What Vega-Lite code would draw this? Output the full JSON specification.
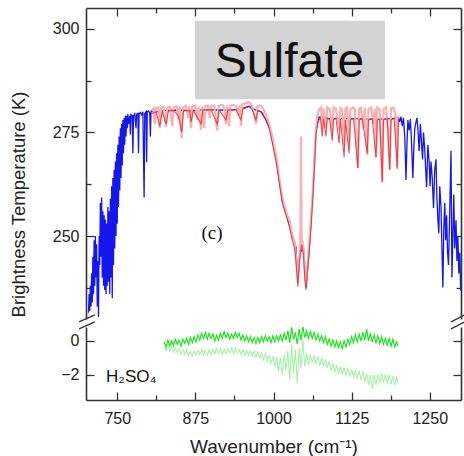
{
"$schema":"https://vega.github.io/schema/vega-lite/v6.json",
"padding":{"left":9,"top":7,"right":0,"bottom":0},
"background":"white",
"config":{"view":{"stroke":null},"axis":{"labelFont":"Liberation Sans","titleFont":"Liberation Sans","labelFontSize":16,"titleFontSize":18.5,"titleFontWeight":"normal","labelColor":"#222","titleColor":"#222","domainColor":"#333","tickColor":"#333","domainWidth":1.6,"tickWidth":1.3,"grid":false}},
"datasets":{
"blue":[{"w":704,"t":231.5},{"w":705,"t":236},{"w":706,"t":232},{"w":707,"t":238},{"w":708,"t":233},{"w":709,"t":241},{"w":710,"t":234},{"w":711,"t":245},{"w":712,"t":236},{"w":713,"t":249},{"w":714,"t":238},{"w":715,"t":250},{"w":716,"t":240},{"w":717,"t":248},{"w":718,"t":233},{"w":719,"t":244},{"w":720,"t":230.5},{"w":721,"t":250},{"w":722,"t":243},{"w":723,"t":258},{"w":724,"t":245},{"w":725,"t":259.3},{"w":726,"t":240},{"w":727,"t":256},{"w":728,"t":238},{"w":729,"t":255},{"w":730,"t":237},{"w":731,"t":254},{"w":732,"t":236},{"w":733,"t":253},{"w":734,"t":238},{"w":735,"t":257},{"w":736,"t":239},{"w":737,"t":256},{"w":738,"t":236},{"w":739,"t":259},{"w":740,"t":240},{"w":741,"t":262},{"w":742,"t":235},{"w":743,"t":264},{"w":744,"t":243},{"w":745,"t":266},{"w":746,"t":247},{"w":747,"t":268},{"w":748,"t":250},{"w":749,"t":270},{"w":750,"t":253},{"w":751,"t":272},{"w":752,"t":257},{"w":753,"t":274},{"w":754,"t":261},{"w":755,"t":276},{"w":756,"t":264},{"w":757,"t":277},{"w":758,"t":267},{"w":759,"t":278},{"w":760,"t":270},{"w":761,"t":278.5},{"w":762,"t":272},{"w":763,"t":279},{"w":764,"t":274},{"w":765,"t":279},{"w":766,"t":276},{"w":767,"t":279.5},{"w":768,"t":277},{"w":770,"t":279},{"w":771,"t":274.5},{"w":772,"t":279.3},{"w":774,"t":279},{"w":775,"t":270},{"w":776,"t":279},{"w":778,"t":279.5},{"w":780,"t":276},{"w":781,"t":279.4},{"w":783,"t":279.6},{"w":784,"t":270},{"w":785,"t":279.5},{"w":787,"t":279.8},{"w":789,"t":279.2},{"w":791,"t":280},{"w":793,"t":259.3},{"w":794,"t":279.5},{"w":796,"t":280},{"w":797,"t":267.8},{"w":798,"t":280},{"w":800,"t":280.2},{"w":802,"t":279.7},{"w":803,"t":274},{"w":804,"t":280},{"w":806,"t":280.3},{"w":808,"t":279.8},{"w":815,"t":280},{"w":830,"t":280.3},{"w":850,"t":280.4},{"w":870,"t":280.2},{"w":890,"t":280.5},{"w":910,"t":280.4},{"w":930,"t":280.3},{"w":950,"t":280.8},{"w":961,"t":281.3},{"w":970,"t":280.5},{"w":980,"t":280},{"w":988,"t":278},{"w":995,"t":275.5},{"w":1004,"t":269},{"w":1014,"t":258.6},{"w":1025,"t":253},{"w":1036,"t":247.3},{"w":1039,"t":238.8},{"w":1042,"t":246},{"w":1048,"t":247},{"w":1052,"t":237.6},{"w":1057,"t":246.5},{"w":1063,"t":260.5},{"w":1068,"t":275.5},{"w":1073,"t":278.7},{"w":1090,"t":278.3},{"w":1110,"t":278.4},{"w":1130,"t":278.3},{"w":1150,"t":278.2},{"w":1170,"t":278.2},{"w":1190,"t":278.3},{"w":1197,"t":278.5},{"w":1200,"t":278.6},{"w":1202,"t":277.5},{"w":1204,"t":278.8},{"w":1206,"t":276.5},{"w":1208,"t":278.5},{"w":1210,"t":274},{"w":1212,"t":263.5},{"w":1213.5,"t":272},{"w":1215,"t":278},{"w":1217,"t":275.5},{"w":1219,"t":278.2},{"w":1221,"t":272},{"w":1223,"t":264},{"w":1224.5,"t":271},{"w":1226,"t":276},{"w":1228,"t":277.5},{"w":1229.5,"t":278.5},{"w":1231,"t":276},{"w":1233,"t":270.5},{"w":1235,"t":277},{"w":1237,"t":272},{"w":1238.5,"t":268.5},{"w":1240,"t":275},{"w":1242,"t":271},{"w":1243.5,"t":266},{"w":1245,"t":261.8},{"w":1247,"t":272},{"w":1249,"t":268},{"w":1250.5,"t":262},{"w":1252,"t":268},{"w":1254,"t":264},{"w":1256,"t":256.8},{"w":1258,"t":266},{"w":1260,"t":268.5},{"w":1261.5,"t":259},{"w":1263,"t":254},{"w":1264.5,"t":250.7},{"w":1266,"t":262},{"w":1268,"t":257},{"w":1269.5,"t":247},{"w":1271,"t":237.6},{"w":1272.5,"t":252},{"w":1274,"t":258},{"w":1275.5,"t":249},{"w":1277,"t":255},{"w":1278.5,"t":246},{"w":1280,"t":243},{"w":1282,"t":256},{"w":1284,"t":270.6},{"w":1285.5,"t":240},{"w":1287,"t":250},{"w":1288.5,"t":260},{"w":1290,"t":247},{"w":1292,"t":253.8},{"w":1293.5,"t":244},{"w":1295,"t":250},{"w":1296.5,"t":241},{"w":1298,"t":246},{"w":1299.5,"t":236.8}],
"pink":[{"w":805,"t":280.3},{"w":808,"t":280.8},{"w":810,"t":277},{"w":812,"t":281},{"w":816,"t":281},{"w":818,"t":276},{"w":820,"t":281},{"w":824,"t":281.2},{"w":828,"t":276.3},{"w":830,"t":281},{"w":834,"t":281.2},{"w":838,"t":276.5},{"w":840,"t":281},{"w":845,"t":281.3},{"w":848,"t":278},{"w":850,"t":281.2},{"w":853,"t":273.6},{"w":855,"t":281},{"w":860,"t":281.4},{"w":863,"t":278.5},{"w":865,"t":281.3},{"w":868,"t":276},{"w":870,"t":281.2},{"w":875,"t":281.5},{"w":878,"t":278},{"w":880,"t":281.3},{"w":884,"t":275.6},{"w":886,"t":281.3},{"w":889,"t":276},{"w":891,"t":281.4},{"w":895,"t":281.5},{"w":898,"t":278.5},{"w":900,"t":281.4},{"w":905,"t":281.5},{"w":910,"t":275.5},{"w":912,"t":281.4},{"w":916,"t":281.6},{"w":920,"t":281.5},{"w":924,"t":277},{"w":926,"t":281.5},{"w":929,"t":276.5},{"w":931,"t":281.5},{"w":936,"t":281.6},{"w":940,"t":281.4},{"w":944,"t":279},{"w":946,"t":281.6},{"w":948,"t":276.5},{"w":950,"t":281.8},{"w":955,"t":282},{"w":961,"t":282.3},{"w":965,"t":281.6},{"w":968,"t":280},{"w":972,"t":277},{"w":974,"t":281.3},{"w":978,"t":281.5},{"w":982,"t":281},{"w":986,"t":280},{"w":990,"t":278.5},{"w":994,"t":276.5},{"w":998,"t":274},{"w":1002,"t":271},{"w":1006,"t":268},{"w":1010,"t":263},{"w":1014,"t":259.5},{"w":1018,"t":257},{"w":1022,"t":255},{"w":1026,"t":253.5},{"w":1030,"t":250},{"w":1034,"t":248.5},{"w":1037,"t":243},{"w":1039,"t":239},{"w":1041,"t":244},{"w":1043,"t":249},{"w":1044,"t":274},{"w":1045,"t":250},{"w":1048,"t":247},{"w":1050,"t":241},{"w":1052,"t":238},{"w":1054,"t":242},{"w":1057,"t":248},{"w":1060,"t":254},{"w":1063,"t":261},{"w":1066,"t":270},{"w":1068,"t":276},{"w":1070,"t":279},{"w":1073,"t":280.5},{"w":1076,"t":281},{"w":1078,"t":276},{"w":1080,"t":280.8},{"w":1084,"t":276},{"w":1086,"t":281},{"w":1090,"t":280.6},{"w":1094,"t":275},{"w":1096,"t":281},{"w":1100,"t":280.7},{"w":1105,"t":275.5},{"w":1107,"t":280.9},{"w":1110,"t":280.5},{"w":1113,"t":272},{"w":1115,"t":280.8},{"w":1118,"t":281},{"w":1121,"t":272},{"w":1123,"t":280.5},{"w":1127,"t":281},{"w":1130,"t":280.6},{"w":1135,"t":266.4},{"w":1137,"t":280.8},{"w":1140,"t":281},{"w":1144,"t":276},{"w":1146,"t":281},{"w":1150,"t":269.5},{"w":1152,"t":280.6},{"w":1156,"t":281},{"w":1160,"t":277},{"w":1162,"t":280.8},{"w":1164,"t":269},{"w":1166,"t":281},{"w":1170,"t":280.5},{"w":1174,"t":263},{"w":1176,"t":280.6},{"w":1180,"t":281},{"w":1183,"t":276},{"w":1186,"t":266},{"w":1188,"t":280.8},{"w":1192,"t":281},{"w":1195,"t":279.5},{"w":1198,"t":266},{"w":1199,"t":279}],
"red":[{"w":805,"t":279.5},{"w":812,"t":280},{"w":818,"t":276.5},{"w":822,"t":280},{"w":828,"t":277},{"w":832,"t":280.2},{"w":840,"t":280.3},{"w":848,"t":279},{"w":853,"t":275},{"w":856,"t":280.2},{"w":866,"t":280.3},{"w":868,"t":277.5},{"w":872,"t":280.3},{"w":884,"t":277},{"w":887,"t":280.4},{"w":900,"t":280.5},{"w":910,"t":277},{"w":913,"t":280.4},{"w":924,"t":278},{"w":927,"t":280.4},{"w":940,"t":280.5},{"w":948,"t":278},{"w":951,"t":280.6},{"w":961,"t":281.3},{"w":966,"t":280.4},{"w":972,"t":278},{"w":975,"t":280.3},{"w":982,"t":279.8},{"w":988,"t":278},{"w":993,"t":276},{"w":998,"t":272.5},{"w":1004,"t":268},{"w":1009,"t":263},{"w":1014,"t":258},{"w":1019,"t":255.5},{"w":1025,"t":252.5},{"w":1030,"t":249},{"w":1034,"t":247},{"w":1037,"t":242},{"w":1039,"t":237.8},{"w":1041,"t":243},{"w":1045,"t":248},{"w":1048,"t":245.5},{"w":1050,"t":240},{"w":1052,"t":237},{"w":1054,"t":241},{"w":1057,"t":246},{"w":1060,"t":252},{"w":1063,"t":259.5},{"w":1066,"t":268},{"w":1068,"t":274.5},{"w":1071,"t":277.5},{"w":1075,"t":278.5},{"w":1078,"t":274},{"w":1080,"t":278.3},{"w":1084,"t":274},{"w":1086,"t":278.5},{"w":1090,"t":278},{"w":1094,"t":273},{"w":1096,"t":278.2},{"w":1100,"t":278.4},{"w":1105,"t":272.4},{"w":1107,"t":278.2},{"w":1113,"t":269},{"w":1115,"t":278},{"w":1121,"t":270},{"w":1123,"t":278},{"w":1128,"t":278.4},{"w":1135,"t":266.4},{"w":1137,"t":278},{"w":1142,"t":278.3},{"w":1150,"t":270},{"w":1152,"t":278},{"w":1158,"t":278.3},{"w":1164,"t":269},{"w":1166,"t":278},{"w":1170,"t":278.2},{"w":1174,"t":263},{"w":1176,"t":278},{"w":1182,"t":278.3},{"w":1186,"t":266},{"w":1188,"t":278},{"w":1193,"t":278.4},{"w":1198,"t":266.5},{"w":1200,"t":278.5}],
"g1":[{"w":825,"v":-0.05},{"w":828,"v":-0.35},{"w":831,"v":0.05},{"w":834,"v":-0.3},{"w":837,"v":0.0},{"w":840,"v":-0.25},{"w":843,"v":0.1},{"w":846,"v":-0.2},{"w":849,"v":0.05},{"w":852,"v":-0.3},{"w":855,"v":0.1},{"w":858,"v":-0.15},{"w":861,"v":0.15},{"w":864,"v":-0.2},{"w":867,"v":0.2},{"w":870,"v":-0.1},{"w":873,"v":0.25},{"w":876,"v":-0.05},{"w":879,"v":0.35},{"w":882,"v":0.05},{"w":885,"v":0.45},{"w":888,"v":0.15},{"w":891,"v":0.5},{"w":894,"v":0.1},{"w":897,"v":0.45},{"w":900,"v":0.15},{"w":903,"v":0.4},{"w":906,"v":0.0},{"w":909,"v":0.35},{"w":912,"v":0.05},{"w":915,"v":0.45},{"w":918,"v":0.15},{"w":921,"v":0.55},{"w":924,"v":0.2},{"w":927,"v":0.45},{"w":930,"v":0.1},{"w":933,"v":0.4},{"w":936,"v":0.15},{"w":939,"v":0.5},{"w":942,"v":0.2},{"w":945,"v":0.45},{"w":948,"v":0.05},{"w":951,"v":0.35},{"w":954,"v":0.0},{"w":957,"v":0.3},{"w":960,"v":-0.05},{"w":963,"v":0.25},{"w":966,"v":-0.1},{"w":969,"v":0.2},{"w":972,"v":-0.15},{"w":975,"v":0.2},{"w":978,"v":-0.1},{"w":981,"v":0.25},{"w":984,"v":-0.05},{"w":987,"v":0.3},{"w":990,"v":0.0},{"w":993,"v":0.25},{"w":996,"v":-0.1},{"w":999,"v":0.3},{"w":1002,"v":-0.05},{"w":1005,"v":0.3},{"w":1008,"v":0.0},{"w":1011,"v":0.35},{"w":1014,"v":0.0},{"w":1017,"v":0.45},{"w":1020,"v":0.05},{"w":1023,"v":0.6},{"w":1026,"v":-0.1},{"w":1029,"v":0.8},{"w":1032,"v":0.1},{"w":1035,"v":0.5},{"w":1038,"v":-0.2},{"w":1041,"v":0.7},{"w":1044,"v":0.05},{"w":1047,"v":0.85},{"w":1050,"v":0.2},{"w":1053,"v":0.6},{"w":1056,"v":0.15},{"w":1059,"v":0.55},{"w":1062,"v":0.15},{"w":1065,"v":0.5},{"w":1068,"v":0.05},{"w":1071,"v":0.4},{"w":1074,"v":0.0},{"w":1077,"v":0.3},{"w":1080,"v":-0.1},{"w":1083,"v":0.25},{"w":1086,"v":-0.2},{"w":1089,"v":0.1},{"w":1092,"v":-0.3},{"w":1095,"v":0.05},{"w":1098,"v":-0.35},{"w":1101,"v":0.0},{"w":1104,"v":-0.4},{"w":1107,"v":-0.05},{"w":1110,"v":-0.45},{"w":1113,"v":0.0},{"w":1116,"v":-0.35},{"w":1119,"v":0.1},{"w":1122,"v":-0.2},{"w":1125,"v":0.25},{"w":1128,"v":-0.1},{"w":1131,"v":0.35},{"w":1134,"v":-0.05},{"w":1137,"v":0.4},{"w":1140,"v":0.0},{"w":1143,"v":0.5},{"w":1146,"v":0.05},{"w":1149,"v":0.7},{"w":1152,"v":0.0},{"w":1155,"v":0.45},{"w":1158,"v":-0.05},{"w":1161,"v":0.35},{"w":1164,"v":-0.1},{"w":1167,"v":0.3},{"w":1170,"v":-0.15},{"w":1173,"v":0.25},{"w":1176,"v":-0.2},{"w":1179,"v":0.15},{"w":1182,"v":-0.25},{"w":1185,"v":0.15},{"w":1188,"v":-0.3},{"w":1191,"v":0.1},{"w":1194,"v":-0.35},{"w":1197,"v":-0.05},{"w":1199,"v":-0.3}],
"g2":[{"w":825,"v":-0.3},{"w":828,"v":-0.55},{"w":831,"v":-0.25},{"w":834,"v":-0.6},{"w":837,"v":-0.35},{"w":840,"v":-0.65},{"w":843,"v":-0.4},{"w":846,"v":-0.7},{"w":849,"v":-0.45},{"w":852,"v":-0.75},{"w":855,"v":-0.5},{"w":858,"v":-0.8},{"w":861,"v":-0.55},{"w":864,"v":-0.85},{"w":867,"v":-0.6},{"w":870,"v":-0.9},{"w":873,"v":-0.6},{"w":876,"v":-0.85},{"w":879,"v":-0.55},{"w":882,"v":-0.8},{"w":885,"v":-0.5},{"w":888,"v":-0.8},{"w":891,"v":-0.55},{"w":894,"v":-0.85},{"w":897,"v":-0.5},{"w":900,"v":-0.8},{"w":903,"v":-0.5},{"w":906,"v":-0.75},{"w":909,"v":-0.45},{"w":912,"v":-0.75},{"w":915,"v":-0.45},{"w":918,"v":-0.8},{"w":921,"v":-0.5},{"w":924,"v":-0.75},{"w":927,"v":-0.45},{"w":930,"v":-0.7},{"w":933,"v":-0.4},{"w":936,"v":-0.75},{"w":939,"v":-0.45},{"w":942,"v":-0.7},{"w":945,"v":-0.5},{"w":948,"v":-0.8},{"w":951,"v":-0.5},{"w":954,"v":-0.85},{"w":957,"v":-0.55},{"w":960,"v":-0.85},{"w":963,"v":-0.6},{"w":966,"v":-0.9},{"w":969,"v":-0.6},{"w":972,"v":-0.95},{"w":975,"v":-0.65},{"w":978,"v":-1.0},{"w":981,"v":-0.7},{"w":984,"v":-1.1},{"w":987,"v":-0.75},{"w":990,"v":-1.2},{"w":993,"v":-0.85},{"w":996,"v":-1.3},{"w":999,"v":-0.9},{"w":1002,"v":-1.5},{"w":1005,"v":-0.95},{"w":1008,"v":-1.8},{"w":1011,"v":-1.0},{"w":1014,"v":-2.0},{"w":1017,"v":-0.8},{"w":1020,"v":-1.7},{"w":1023,"v":-0.6},{"w":1026,"v":-2.3},{"w":1029,"v":-0.2},{"w":1032,"v":-1.9},{"w":1035,"v":-0.5},{"w":1038,"v":-2.5},{"w":1041,"v":-0.4},{"w":1044,"v":-1.6},{"w":1047,"v":0.1},{"w":1050,"v":-1.5},{"w":1053,"v":-0.7},{"w":1056,"v":-1.4},{"w":1059,"v":-0.8},{"w":1062,"v":-1.3},{"w":1065,"v":-0.85},{"w":1068,"v":-1.35},{"w":1071,"v":-0.9},{"w":1074,"v":-1.45},{"w":1077,"v":-1.0},{"w":1080,"v":-1.5},{"w":1083,"v":-1.1},{"w":1086,"v":-1.6},{"w":1089,"v":-1.2},{"w":1092,"v":-1.75},{"w":1095,"v":-1.3},{"w":1098,"v":-1.85},{"w":1101,"v":-1.4},{"w":1104,"v":-1.95},{"w":1107,"v":-1.5},{"w":1110,"v":-2.0},{"w":1113,"v":-1.55},{"w":1116,"v":-2.05},{"w":1119,"v":-1.6},{"w":1122,"v":-2.1},{"w":1125,"v":-1.65},{"w":1128,"v":-2.1},{"w":1131,"v":-1.7},{"w":1134,"v":-2.2},{"w":1137,"v":-1.75},{"w":1140,"v":-2.3},{"w":1143,"v":-1.8},{"w":1146,"v":-2.4},{"w":1149,"v":-1.9},{"w":1152,"v":-2.6},{"w":1155,"v":-2.0},{"w":1158,"v":-2.8},{"w":1161,"v":-2.0},{"w":1164,"v":-2.6},{"w":1167,"v":-1.95},{"w":1170,"v":-2.5},{"w":1173,"v":-1.9},{"w":1176,"v":-2.45},{"w":1179,"v":-1.95},{"w":1182,"v":-2.5},{"w":1185,"v":-2.0},{"w":1188,"v":-2.55},{"w":1191,"v":-2.05},{"w":1194,"v":-2.6},{"w":1197,"v":-2.1},{"w":1199,"v":-2.5}],
"box":[{"x1":874.4,"x2":1178.4,"y1":283.0,"y2":301.9}],
"labels":[{"w":1025.6,"t":288.3,"s":"Sulfate"}],
"clab":[{"w":901.6,"t":249.2,"s":"(c)"}],
"hlab":[{"w":732,"v":-2.41,"s":"H₂SO₄"}],
"brk":[{"a":689,"b":714,"c":1.12,"d":1.53},{"a":689,"b":714,"c":0.71,"d":1.12},{"a":1284,"b":1306,"c":1.12,"d":1.53},{"a":1284,"b":1306,"c":0.71,"d":1.12}]
},
"spacing":8,
"bounds":"flush",
"resolve":{"scale":{"x":"independent","y":"independent"}},
"vconcat":[
{"width":375,"height":311,
"layer":[
{"data":{"name":"blue"},"mark":{"type":"line","color":"#1616ee","strokeWidth":1.3,"clip":true},
"encoding":{"x":{"field":"w","type":"quantitative","scale":{"domain":[700,1300],"nice":false,"zero":false},"axis":{"orient":"top","values":[750,812.5,875,937.5,1000,1062.5,1125,1187.5,1250],"labels":false,"title":null,"tickSize":{"condition":{"test":"datum.value % 125 == 0","value":-8},"value":-5}}},
"y":{"field":"t","type":"quantitative","scale":{"domain":[230,305],"nice":false,"zero":false},"axis":{"orient":"left","values":[237.5,250,262.5,275,287.5,300],"labelExpr":"datum.value % 25 == 0 ? datum.label : ''","labelPadding":15,"tickSize":{"condition":{"test":"datum.value % 25 == 0","value":-8},"value":-5},"title":"Brightness Temperature (K)","titleX":-62,"titleY":196,"titleBaseline":"alphabetic","titleAlign":"center","titleAngle":-90}}}},
{"data":{"name":"pink"},"mark":{"type":"line","color":"#f8b2b2","strokeWidth":2.2,"clip":true},
"encoding":{"x":{"field":"w","type":"quantitative"},
"y":{"field":"t","type":"quantitative","axis":{"orient":"right","values":[237.5,250,262.5,275,287.5,300],"labels":false,"title":null,"tickSize":{"condition":{"test":"datum.value % 25 == 0","value":-8},"value":-5}}}}},
{"data":{"name":"red"},"mark":{"type":"line","color":"#e3232d","strokeWidth":1.1,"opacity":0.8,"clip":true},
"encoding":{"x":{"field":"w","type":"quantitative"},"y":{"field":"t","type":"quantitative","axis":null}}},
{"data":{"name":"box"},"mark":{"type":"rect","color":"#d3d3d3"},
"encoding":{"x":{"field":"x1","type":"quantitative"},"x2":{"field":"x2"},"y":{"field":"y1","type":"quantitative","axis":null},"y2":{"field":"y2"}}},
{"data":{"name":"labels"},"mark":{"type":"text","font":"Liberation Sans","fontSize":48,"color":"#111","align":"center","baseline":"alphabetic"},
"encoding":{"x":{"field":"w","type":"quantitative"},"y":{"field":"t","type":"quantitative","axis":null},"text":{"field":"s"}}},
{"data":{"name":"clab"},"mark":{"type":"text","font":"Liberation Serif","fontSize":19,"color":"#111","align":"center","baseline":"alphabetic"},
"encoding":{"x":{"field":"w","type":"quantitative"},"y":{"field":"t","type":"quantitative","axis":null},"text":{"field":"s"}}}
],
"resolve":{"axis":{"y":"independent"}}},
{"width":375,"height":73,
"layer":[
{"data":{"name":"g2"},"mark":{"type":"line","color":"#a6f2a6","strokeWidth":1.1,"clip":true},
"encoding":{"x":{"field":"w","type":"quantitative","scale":{"domain":[700,1300],"nice":false,"zero":false},"axis":{"orient":"bottom","values":[750,812.5,875,937.5,1000,1062.5,1125,1187.5,1250],"format":"d","labelExpr":"datum.value % 125 == 0 ? datum.label : ''","labelPadding":18,"tickSize":{"condition":{"test":"datum.value % 125 == 0","value":-8},"value":-5},"title":"Wavenumber (cm⁻¹)","titleFontSize":19,"titleY":52,"titleBaseline":"alphabetic"}},
"y":{"field":"v","type":"quantitative","scale":{"domain":[-3.47,0.82],"nice":false,"zero":false},"axis":{"orient":"left","values":[0,-2],"labelPadding":15,"tickSize":-8,"title":null}}}},
{"data":{"name":"g1"},"mark":{"type":"line","color":"#1ee41e","strokeWidth":1.2,"clip":true},
"encoding":{"x":{"field":"w","type":"quantitative"},
"y":{"field":"v","type":"quantitative","axis":{"orient":"right","values":[0,-2],"labels":false,"tickSize":-8,"title":null}}}},
{"data":{"name":"hlab"},"mark":{"type":"text","font":"Liberation Sans","fontSize":17,"color":"#111","align":"left","baseline":"alphabetic"},
"encoding":{"x":{"field":"w","type":"quantitative"},"y":{"field":"v","type":"quantitative","axis":null},"text":{"field":"s"}}},
{"data":{"name":"brk"},"mark":{"type":"rule","color":"#333","strokeWidth":1.3},
"encoding":{"x":{"field":"a","type":"quantitative"},"x2":{"field":"b"},"y":{"field":"c","type":"quantitative","axis":null},"y2":{"field":"d"}}}
],
"resolve":{"axis":{"y":"independent"}}}
]
}
